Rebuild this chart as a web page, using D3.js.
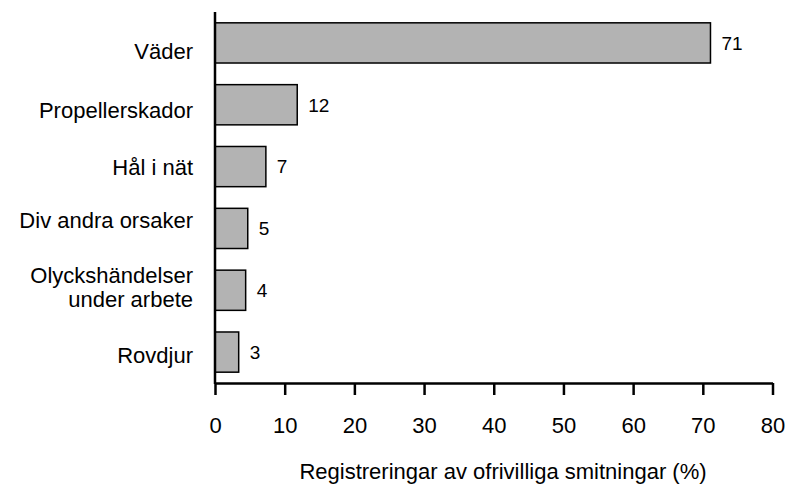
<!DOCTYPE html>
<html><head><meta charset="utf-8">
<script src="https://cdn.jsdelivr.net/npm/d3@7"></script>
<style>body{margin:0;background:#fff}svg{display:block}text{font-family:"Liberation Sans",Arial,sans-serif;fill:#000}</style>
</head><body><svg id="c" width="788" height="485"></svg>
<script>
const categories = [["Väder"], ["Propellerskador"], ["Hål i nät"], ["Div andra orsaker"], ["Olyckshändelser","under arbete"], ["Rovdjur"]];
const values = [71.1, 11.8, 7.3, 4.7, 4.4, 3.4];
const valueLabels = ["71", "12", "7", "5", "4", "3"];
const xTicks = [0, 10, 20, 30, 40, 50, 60, 70, 80];
const xTitle = "Registreringar av ofrivilliga smitningar (%)";

const svg = d3.select("#c");
const x = d3.scaleLinear().domain([0, 80]).range([215, 772.5]);
const y = d3.scaleBand().domain(d3.range(categories.length)).range([12, 383]).paddingInner(0.35).paddingOuter(0.175);
// label placement nudges (layout only)
const labelNudge = [8, 5, 0, -8, -3, 3];

svg.selectAll("rect.bar").data(values).join("rect")
  .attr("x", x(0)).attr("y", (d,i)=>y(i))
  .attr("width", d=>x(d)-x(0)).attr("height", y.bandwidth())
  .attr("fill", "#b3b3b3").attr("stroke", "#000").attr("stroke-width", 1.5);

svg.selectAll("text.val").data(values).join("text")
  .attr("x", d=>x(d)+11).attr("y", (d,i)=>y(i)+y.bandwidth()/2)
  .attr("dy", "0.36em").attr("font-size", 19).text((d,i)=>valueLabels[i]);

const cat = svg.selectAll("text.cat").data(categories).join("text")
  .attr("text-anchor", "end").attr("font-size", 22)
  .attr("transform", (d,i)=>`translate(193,${y(i)+y.bandwidth()/2+labelNudge[i]})`);
cat.each(function(lines){
  const t = d3.select(this);
  const lh = 24;
  lines.forEach((l,k)=>{
    t.append("tspan").attr("x",0).attr("y", (k-(lines.length-1)/2)*lh).attr("dy","0.36em").text(l);
  });
});

const xAxis = d3.axisBottom(x).tickValues(xTicks).tickSize(12).tickPadding(22).tickSizeOuter(0);
const gx = svg.append("g").attr("transform", "translate(0,383)").call(xAxis);
gx.select(".domain").attr("stroke-width", 2.5);
gx.selectAll(".tick line").attr("stroke-width", 2.5);
gx.selectAll(".tick text").attr("font-size", 22).attr("font-family", '"Liberation Sans",Arial,sans-serif').attr("fill","#000");

svg.append("line").attr("x1", 215).attr("x2", 215).attr("y1", 12).attr("y2", 384)
  .attr("stroke", "#000").attr("stroke-width", 2.5);

svg.append("text").attr("x", 503).attr("y", 479).attr("text-anchor", "middle")
  .attr("font-size", 22).text(xTitle);
</script></body></html>
